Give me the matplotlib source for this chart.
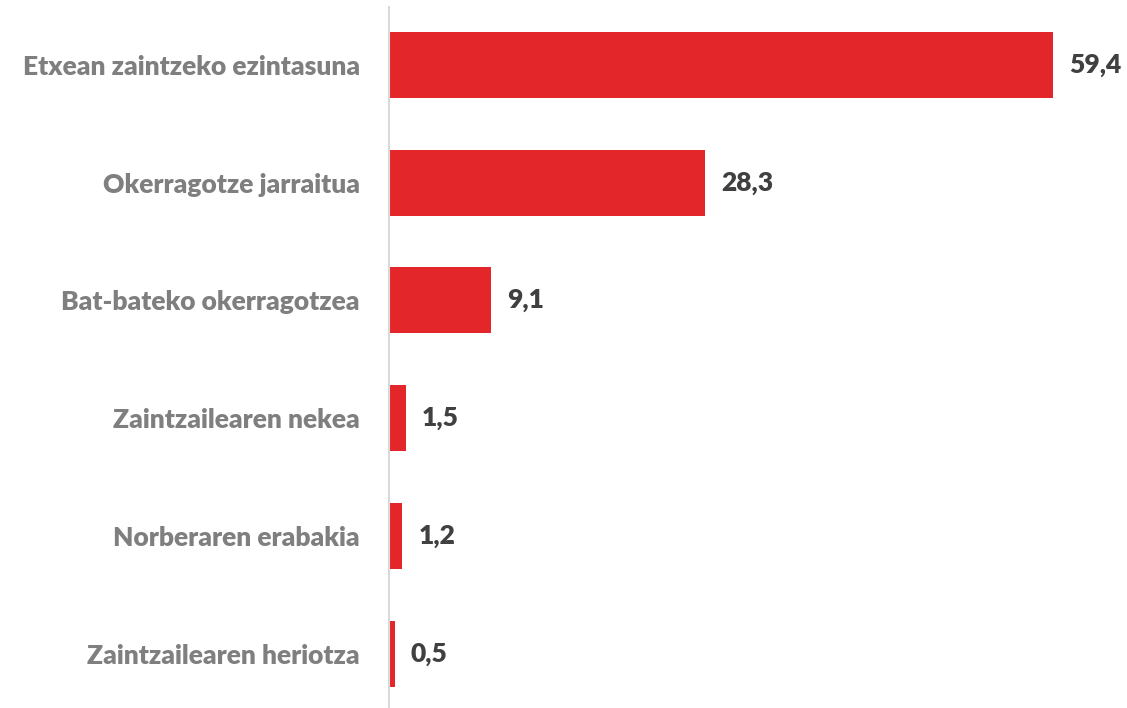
import matplotlib.pyplot as plt

categories = ["Etxean zaintzeko ezintasuna", "Okerragotze jarraitua", "Bat-bateko okerragotzea",
              "Zaintzailearen nekea", "Norberaren erabakia", "Zaintzailearen heriotza"]
values = [59.4, 28.3, 9.1, 1.5, 1.2, 0.5]
value_labels = ["59,4", "28,3", "9,1", "1,5", "1,2", "0,5"]

fig = plt.figure(figsize=(11.27, 7.08), dpi=100)
ax = fig.add_axes([389/1127, 0, 1 - 389/1127, 1 - 7/708])

pos = list(range(len(categories)))
ax.barh(pos, values, height=0.56, color="#E3262A")
for p, v, t in zip(pos, values, value_labels):
    ax.text(v + 1.45, p, t, va="center", ha="left", fontsize=19, fontweight="heavy",
            color="#404040", family="Lato")

ax.set_xlim(0, 66.0)
ax.set_ylim(5.46, -0.49)
ax.set_yticks(pos)
ax.set_yticklabels(categories, fontsize=19, fontweight="heavy", color="#7F7F7F", family="Lato")
ax.tick_params(axis="y", length=0, pad=21)
ax.set_xticks([])
for s in ["top", "right", "bottom"]:
    ax.spines[s].set_visible(False)
ax.spines["left"].set_color("#D9D9D9")
ax.spines["left"].set_linewidth(1.5)

fig.savefig("out.png", dpi=100)
